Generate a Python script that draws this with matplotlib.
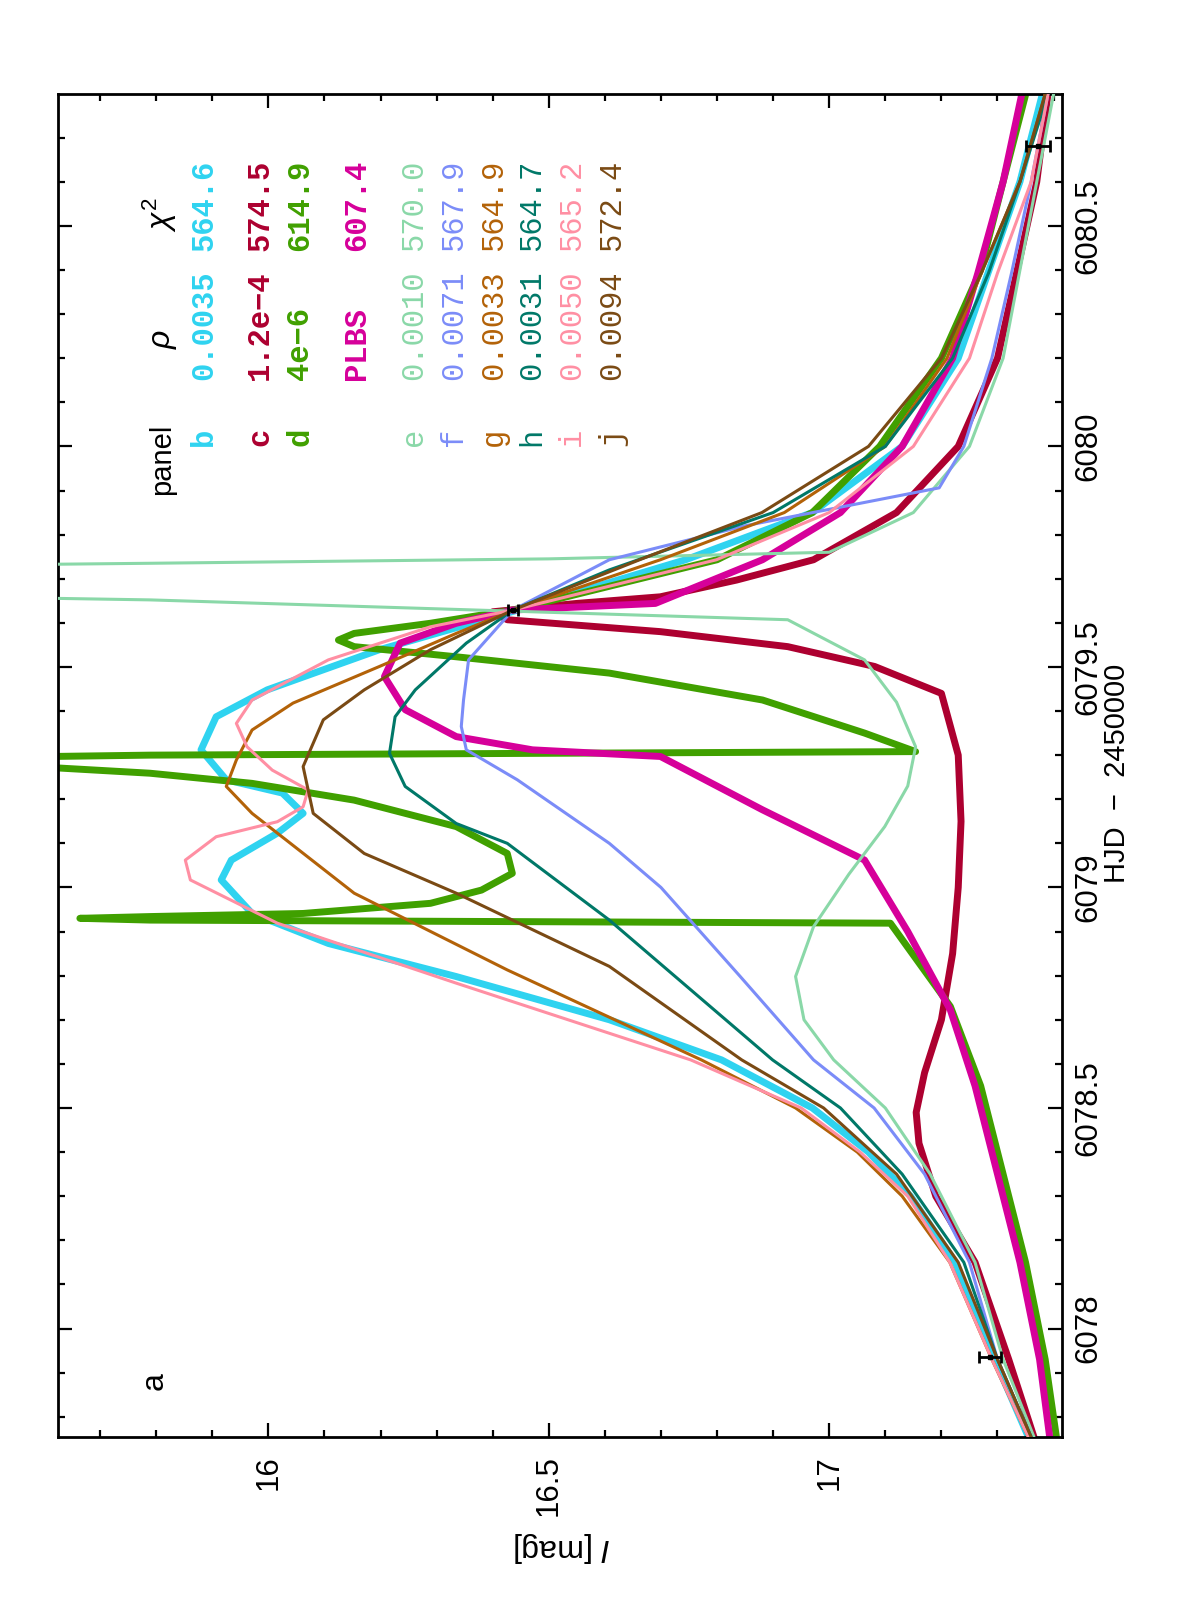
import matplotlib
matplotlib.use("Agg")
import matplotlib.pyplot as plt
from matplotlib.ticker import MultipleLocator

plt.rcParams.update({
    "font.family": ["Liberation Sans", "DejaVu Sans"],
    "mathtext.fontset": "custom",
    "mathtext.rm": "Liberation Sans",
    "mathtext.it": "Liberation Sans:italic",
    "axes.linewidth": 2.0,
})

# ---- light-curve models: HJD-2450000 and I magnitude ----
hjd_b = [6077.754, 6077.93, 6078.15, 6078.3, 6078.4, 6078.5, 6078.609, 6078.700, 6078.798,
         6078.873, 6078.941, 6079.017, 6079.062, 6079.123, 6079.168, 6079.214, 6079.244,
         6079.312, 6079.387, 6079.448, 6079.539, 6079.622, 6079.743, 6079.85, 6080.0,
         6080.2, 6080.4, 6080.6, 6080.799]
mag_b = [17.355, 17.295, 17.225, 17.145, 17.07, 16.97, 16.808, 16.608, 16.335,
         16.107, 15.971, 15.916, 15.934, 16.016, 16.062, 16.025, 15.925,
         15.880, 15.907, 15.998, 16.198, 16.426, 16.744, 16.97, 17.13,
         17.23, 17.285, 17.34, 17.38]

hjd_c = [6077.754, 6077.93, 6078.15, 6078.3, 6078.42, 6078.49, 6078.58, 6078.7, 6078.85,
         6079.0, 6079.15, 6079.3, 6079.440, 6079.501, 6079.546, 6079.580, 6079.607, 6079.625,
         6079.644, 6079.659, 6079.697, 6079.743, 6079.85, 6080.0, 6080.2, 6080.393, 6080.6,
         6080.799]
mag_c = [17.365, 17.32, 17.26, 17.19, 17.16, 17.155, 17.17, 17.20, 17.22,
         17.23, 17.235, 17.23, 17.20, 17.081, 16.926, 16.699, 16.426, 16.40,
         16.55, 16.699, 16.835, 16.972, 17.12, 17.23, 17.30, 17.334, 17.37,
         17.39]

hjd_d = [6077.754, 6077.93, 6078.15, 6078.35, 6078.55, 6078.730, 6078.919, 6078.926, 6078.93,
         6078.934, 6078.941, 6078.964, 6078.994, 6079.032, 6079.077, 6079.138, 6079.198,
         6079.236, 6079.259, 6079.28, 6079.295, 6079.300, 6079.308, 6079.350, 6079.425,
         6079.486, 6079.523, 6079.546, 6079.561, 6079.576, 6079.599, 6079.629, 6079.743,
         6079.85, 6080.0, 6080.2, 6080.4, 6080.6, 6080.797]
mag_d = [17.405, 17.385, 17.35, 17.31, 17.27, 17.216, 17.109, 15.789, 15.664,
         15.789, 16.062, 16.289, 16.380, 16.435, 16.426, 16.335, 16.153,
         15.971, 15.789, 15.5, 15.5, 15.789, 17.154, 17.063, 16.881,
         16.608, 16.335, 16.153, 16.125, 16.153, 16.289, 16.436, 16.80,
         16.97, 17.09, 17.20, 17.27, 17.31, 17.35]

hjd_p = [6077.754, 6077.93, 6078.15, 6078.35, 6078.55, 6078.722, 6078.9, 6079.062, 6079.176,
         6079.297, 6079.312, 6079.342, 6079.403, 6079.478, 6079.554, 6079.599, 6079.629,
         6079.644, 6079.743, 6079.85, 6080.0, 6080.2, 6080.393, 6080.6, 6080.797]
mag_p = [17.393, 17.375, 17.34, 17.30, 17.26, 17.216, 17.14, 17.063, 16.881,
         16.699, 16.471, 16.335, 16.244, 16.207, 16.235, 16.335, 16.436,
         16.690, 16.881, 17.02, 17.13, 17.22, 17.265, 17.31, 17.343]

hjd_e = [6077.754, 6077.93, 6078.15, 6078.35, 6078.5, 6078.609, 6078.7, 6078.798, 6078.911,
         6079.03, 6079.138, 6079.23, 6079.319, 6079.42, 6079.516, 6079.607, 6079.652, 6079.66,
         6079.73, 6079.735, 6079.745, 6079.76, 6079.85, 6080.0, 6080.2, 6080.393, 6080.6,
         6080.799]
mag_e = [17.365, 17.31, 17.26, 17.18, 17.10, 17.008, 16.955, 16.940, 16.972,
         17.035, 17.099, 17.14, 17.154, 17.12, 17.063, 16.926, 15.789, 15.4,
         15.4, 15.789, 16.5, 17.0, 17.15, 17.25, 17.31, 17.339, 17.37,
         17.40]

hjd_f = [6077.754, 6077.93, 6078.15, 6078.35, 6078.5, 6078.609, 6078.8, 6079.0, 6079.100,
         6079.244, 6079.312, 6079.365, 6079.425, 6079.516, 6079.629, 6079.743, 6079.82,
         6079.906, 6080.0, 6080.2, 6080.393, 6080.6, 6080.799]
mag_f = [17.36, 17.30, 17.25, 17.17, 17.08, 16.972, 16.84, 16.70, 16.608,
         16.444, 16.353, 16.344, 16.348, 16.357, 16.436, 16.608, 16.85,
         17.196, 17.24, 17.29, 17.325, 17.36, 17.39]

hjd_g = [6077.754, 6077.93, 6078.15, 6078.3, 6078.4, 6078.5, 6078.609, 6078.813, 6078.987,
         6079.168, 6079.229, 6079.289, 6079.357, 6079.418, 6079.501, 6079.576, 6079.629,
         6079.743, 6079.85, 6080.0, 6080.2, 6080.393, 6080.6, 6080.799]
mag_g = [17.355, 17.29, 17.215, 17.13, 17.05, 16.94, 16.772, 16.426, 16.153,
         15.971, 15.925, 15.943, 15.971, 16.044, 16.198, 16.335, 16.436,
         16.699, 16.92, 17.10, 17.21, 17.271, 17.34, 17.385]

hjd_h = [6077.754, 6077.93, 6078.15, 6078.35, 6078.5, 6078.609, 6078.926, 6079.100, 6079.145,
         6079.229, 6079.304, 6079.387, 6079.448, 6079.554, 6079.629, 6079.720, 6079.85,
         6080.0, 6080.2, 6080.393, 6080.6, 6080.799]
mag_h = [17.36, 17.30, 17.24, 17.13, 17.02, 16.899, 16.608, 16.426, 16.335,
         16.244, 16.216, 16.226, 16.262, 16.353, 16.436, 16.608, 16.90,
         17.10, 17.22, 17.284, 17.34, 17.39]

hjd_i = [6077.754, 6077.93, 6078.15, 6078.3, 6078.4, 6078.5, 6078.609, 6078.783, 6078.919,
         6079.017, 6079.062, 6079.115, 6079.149, 6079.183, 6079.221, 6079.266, 6079.319,
         6079.372, 6079.425, 6079.516, 6079.591, 6079.629, 6079.743, 6079.85, 6080.0,
         6080.2, 6080.393, 6080.6, 6080.799]
mag_i = [17.355, 17.29, 17.215, 17.14, 17.055, 16.95, 16.753, 16.335, 16.016,
         15.861, 15.852, 15.907, 16.016, 16.062, 16.071, 16.007, 15.962,
         15.943, 15.971, 16.107, 16.289, 16.436, 16.799, 17.0, 17.15,
         17.25, 17.30, 17.36, 17.39]

hjd_j = [6077.754, 6077.93, 6078.15, 6078.35, 6078.5, 6078.609, 6078.821, 6078.987, 6079.077,
         6079.168, 6079.274, 6079.380, 6079.448, 6079.539, 6079.629, 6079.743, 6079.85,
         6080.0, 6080.2, 6080.393, 6080.6, 6080.799]
mag_j = [17.36, 17.30, 17.23, 17.12, 16.99, 16.844, 16.608, 16.335, 16.171,
         16.080, 16.062, 16.098, 16.171, 16.289, 16.436, 16.662, 16.88,
         17.07, 17.20, 17.271, 17.34, 17.385]

# observed points
obs_hjd = [6077.935, 6079.629, 6080.680]
obs_mag = [17.287, 16.436, 17.372]
obs_err = [0.020, 0.009, 0.021]

# legend table
panels = ["b", "c", "d", "", "e", "f", "g", "h", "i", "j"]
rhos = ["0.0035", "1.2e\u22124", "4e\u22126", "PLBS", "0.0010", "0.0071", "0.0033",
        "0.0031", "0.0050", "0.0094"]
chi2s = ["564.6", "574.5", "614.9", "607.4", "570.0", "567.9", "564.9", "564.7",
         "565.2", "572.4"]
colors = ["#2fd3f0", "#ad0030", "#40a000", "#d6009a", "#8ad8a8", "#7b8cf8",
          "#b36208", "#007868", "#ff8fa3", "#7a4a14"]
curves = [(hjd_b, mag_b), (hjd_c, mag_c), (hjd_d, mag_d), (hjd_p, mag_p),
          (hjd_e, mag_e), (hjd_f, mag_f), (hjd_g, mag_g), (hjd_h, mag_h),
          (hjd_i, mag_i), (hjd_j, mag_j)]
thick = [True, True, True, True, False, False, False, False, False, False]

mag_ticks = [16, 16.5, 17]
mag_labels = ["16", "16.5", "17"]
hjd_ticks = [6078, 6078.5, 6079, 6079.5, 6080, 6080.5]
hjd_labels = ["6078", "6078.5", "6079", "6079.5", "6080", "6080.5"]

W, H = 1196, 1600
fig = plt.figure(figsize=(W / 100, H / 100), dpi=100)
ax = fig.add_axes([58 / W, 1 - 1437 / H, (1062 - 58) / W, (1437 - 94) / H])


def fxy(x, y):
    return x / W, 1 - y / H


for (hj, mg), col, thk in zip(curves, colors, thick):
    ax.plot(mg, hj, color=col, lw=5.0 if thk else 2.2, solid_joinstyle="round",
            solid_capstyle="round", zorder=2 if thk else 3)

ax.errorbar(obs_mag, obs_hjd, xerr=obs_err, fmt="s", ms=3, color="black",
            ecolor="black", elinewidth=2, capsize=4, capthick=2, zorder=5)

ax.set_xlim(15.625, 17.415)
ax.set_ylim(6077.754, 6080.799)
ax.set_xticks(mag_ticks, labels=mag_labels)
ax.set_yticks(hjd_ticks, labels=hjd_labels)
ax.xaxis.set_minor_locator(MultipleLocator(0.1))
ax.yaxis.set_minor_locator(MultipleLocator(0.1))
ax.tick_params(which="both", direction="in", top=True, bottom=True, left=True, right=True,
               width=1.6, labelsize=22.5)
ax.tick_params(which="major", length=10)
ax.tick_params(which="minor", length=5)
ax.tick_params(axis="x", labelrotation=90, pad=13)
ax.tick_params(axis="y", labelleft=False, labelright=True, labelrotation=90, pad=8)
for lbl in ax.get_yticklabels():
    lbl.set_va("center")

fig.text(*fxy(1117, 773), "HJD  \u2212  2450000", rotation=90, ha="center", va="center",
         fontsize=21)
fig.text(*fxy(562, 1547), "$I$ [mag]", rotation=180, ha="center", va="center", fontsize=23)
fig.text(*fxy(155, 1381), "a", rotation=90, ha="center", va="center", fontsize=23)

# table, text rotated to read bottom to top
mono = ["Liberation Mono", "DejaVu Sans Mono"]
fig.text(*fxy(170, 495), "panel", rotation=90, rotation_mode="anchor", ha="left",
         va="baseline", fontsize=21)
fig.text(*fxy(170, 349), r"$\rho$", rotation=90, rotation_mode="anchor", ha="left",
         va="baseline", fontsize=23)
fig.text(*fxy(170, 232), r"$\chi^2$", rotation=90, rotation_mode="anchor", ha="left",
         va="baseline", fontsize=23)
row_x = [212, 268, 308, 365, 422, 462, 502, 540, 580, 620]
for k in range(len(panels)):
    wt = "bold" if thick[k] else "normal"
    kw = dict(rotation=90, rotation_mode="anchor", ha="left", va="baseline",
              fontsize=22, family=mono, weight=wt, color=colors[k])
    if panels[k]:
        fig.text(*fxy(row_x[k], 446), panels[k], **kw)
    fig.text(*fxy(row_x[k], 380), rhos[k], **kw)
    fig.text(*fxy(row_x[k], 251), chi2s[k], **kw)

fig.savefig("out.png", dpi=100)
